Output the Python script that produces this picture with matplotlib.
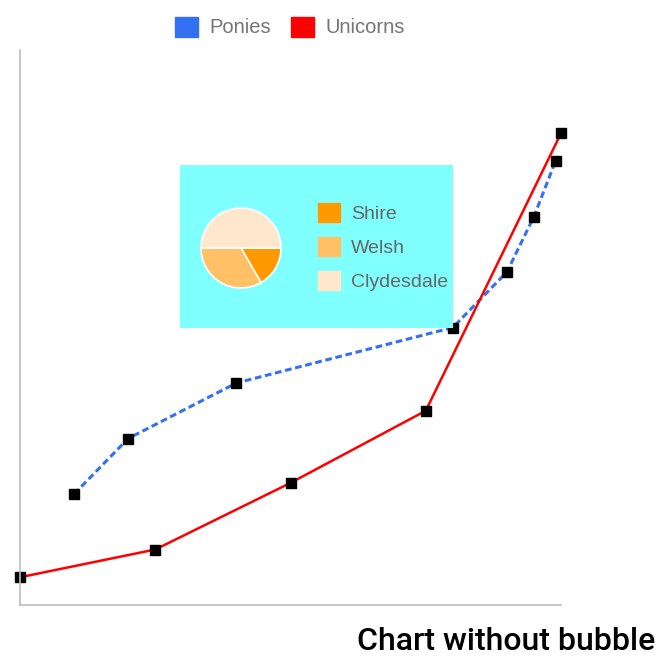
import matplotlib
matplotlib.use('Agg')
import matplotlib.pyplot as plt
from matplotlib.patches import Patch

# data
ponies_x = [10, 20, 40, 80, 90, 95, 99]
ponies_y = [20, 30, 40, 50, 60, 70, 80]
unicorns_x = [0, 25, 50, 75, 100]
unicorns_y = [5, 10, 22, 35, 85]

pie_labels = ['Shire', 'Welsh', 'Clydesdale']
pie_values = [1, 2, 3]
pie_colors = ['#ff9900', '#ffc066', '#ffe7cc']

W, H = 661, 657
fig = plt.figure(figsize=(W / 100, H / 100), dpi=100)


def px_axes(x0, y0, x1, y1, **kw):
    # pixel box (top-left origin) -> figure fraction
    return fig.add_axes([x0 / W, 1 - y1 / H, (x1 - x0) / W, (y1 - y0) / H], **kw)


ax = px_axes(20, 50, 561, 605)
ax.plot(ponies_x, ponies_y, color='#3371f2', lw=2.2, ls=(0, (2.2, 1.2)),
        marker='s', ms=6.5, mfc='black', mec='black', label='Ponies', clip_on=False)
ax.plot(unicorns_x, unicorns_y, color='#ff0000', lw=1.8,
        marker='s', ms=6.5, mfc='black', mec='black', label='Unicorns', clip_on=False)
ax.set_xlim(0, 100)
ax.set_ylim(0, 100)
ax.set_xticks([])
ax.set_yticks([])
for s in ['top', 'right']:
    ax.spines[s].set_visible(False)
for s in ['left', 'bottom']:
    ax.spines[s].set_color('#bdbdbd')
    ax.spines[s].set_linewidth(1.2)

handles = [Patch(color='#3371f2', label='Ponies'), Patch(color='#ff0000', label='Unicorns')]
fig.legend(handles=handles, loc='center', bbox_to_anchor=(290 / W, 1 - 27 / H), ncol=2,
           frameon=False, labelcolor='#757575', handlelength=1.15,
           handleheight=1.15, handletextpad=0.55, columnspacing=1.0, borderpad=0,
           prop={'family': 'Liberation Sans', 'size': 14.5})

# cyan inset box
box = px_axes(180, 165, 453, 328)
box.set_facecolor('#80ffff')
box.set_xticks([])
box.set_yticks([])
for s in box.spines.values():
    s.set_visible(False)
box.legend(handles=[Patch(color=c, label=l) for c, l in zip(pie_colors, pie_labels)],
           loc='upper left', bbox_to_anchor=((318 - 180) / 273, 1 - (203 - 165) / 163),
           frameon=False, labelcolor='#666666', handlelength=1.15, handleheight=1.15,
           handletextpad=0.55, labelspacing=0.7, borderaxespad=0, borderpad=0,
           prop={'family': 'Liberation Sans', 'size': 14})

pie_ax = px_axes(201, 208, 281, 288)
pie_ax.pie(pie_values, colors=pie_colors, startangle=0, counterclock=False,
           wedgeprops={'edgecolor': 'white', 'linewidth': 1.2})
pie_ax.set_xlim(-1, 1)
pie_ax.set_ylim(-1, 1)
pie_ax.set_aspect('equal')

fig.text(655 / W, 1 - 642 / H, 'Chart without bubble', ha='right', va='center',
         fontsize=23, fontfamily='Roboto', fontweight='medium', color='black')

fig.savefig('out.png', dpi=100)
